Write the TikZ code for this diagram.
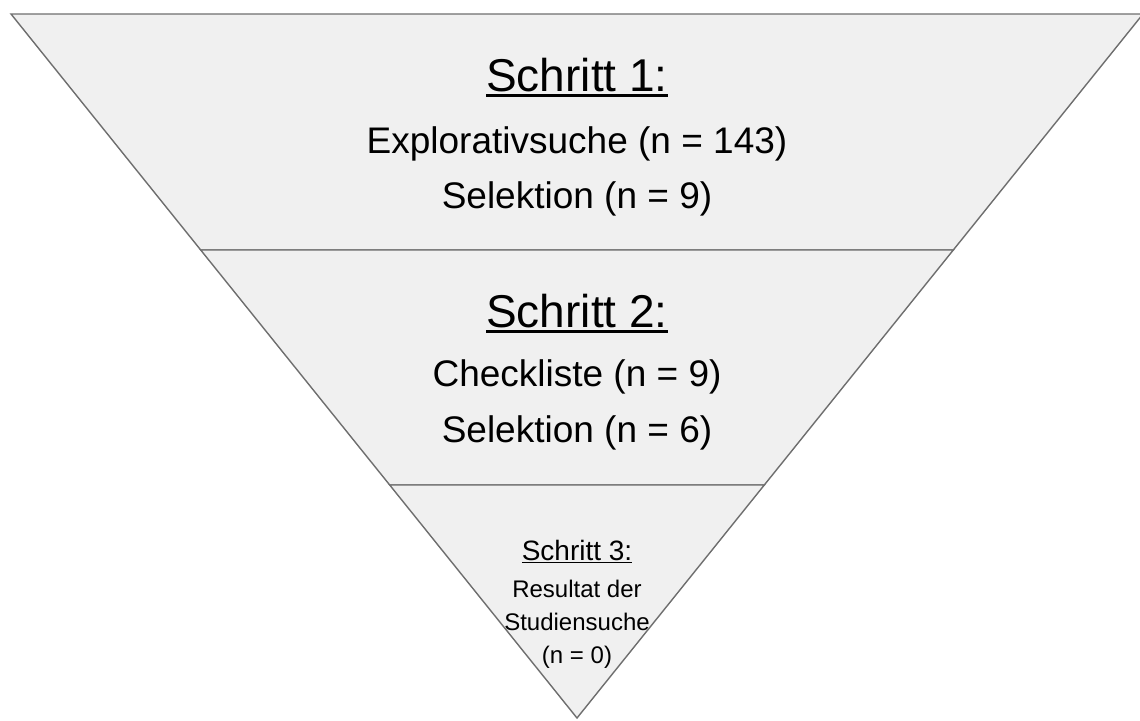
\documentclass[tikz,border=0pt]{standalone}
\usepackage{fontspec}
\setmainfont{Liberation Sans}
\definecolor{tierfill}{HTML}{F0F0F0}
\definecolor{tieredge}{HTML}{6E6E6E}
\newcommand\ulbox[1]{\setbox0\hbox{#1}\rlap{\rule[-0.12em]{\wd0}{0.055em}}\box0}
\begin{document}
\begin{tikzpicture}[x=1pt,y=-1pt,
  tier/.style={fill=tierfill, draw=tieredge, line width=1.4pt, line join=miter},
  tiershadow/.style={fill=black, opacity=.22},
  head/.style={anchor=base, inner sep=0pt, font=\fontsize{46}{50}\selectfont},
  body/.style={anchor=base, inner sep=0pt, font=\fontsize{37}{40}\selectfont},
  headsmall/.style={anchor=base, inner sep=0pt, font=\fontsize{28}{32}\selectfont},
  bodysmall/.style={anchor=base, inner sep=0pt, font=\fontsize{24}{28}\selectfont}]
\useasboundingbox (0,0) rectangle (1140,720);
\clip (0,0) rectangle (1140,720);
% corner coordinates
\coordinate (tl) at (11,14);
\coordinate (tr) at (1143,14);
\coordinate (ml) at (200.7,250);
\coordinate (mr) at (953.3,250);
\coordinate (bl) at (389.7,485);
\coordinate (br) at (764.3,485);
\coordinate (ap) at (577,718);
% shadows
\begin{scope}[yshift=-2pt, xshift=0.5pt]
\fill[tiershadow] (tl) -- (tr) -- (mr) -- (ml) -- cycle;
\fill[tiershadow] (ml) -- (mr) -- (br) -- (bl) -- cycle;
\fill[tiershadow] (bl) -- (br) -- (ap) -- cycle;
\end{scope}
% tiers
\path[tier] (tl) -- (tr) -- (mr) -- (ml) -- cycle;
\path[tier] (ml) -- (mr) -- (br) -- (bl) -- cycle;
\path[tier] (bl) -- (br) -- (ap) -- cycle;
% texts
\node[head] (s1) at (577,91) {\ulbox{Schritt 1:}};
\node[body] (s1a) at (577,153) {Explorativsuche (n = 143)};
\node[body] (s1b) at (577,208) {Selektion (n = 9)};
\node[head] (s2) at (577,327) {\ulbox{Schritt 2:}};
\node[body] (s2a) at (577,386) {Checkliste (n = 9)};
\node[body] (s2b) at (577,442) {Selektion (n = 6)};
\node[headsmall] (s3) at (577,560) {\ulbox{Schritt 3:}};
\node[bodysmall] (s3a) at (577,597) {Resultat der};
\node[bodysmall] (s3b) at (577,630) {Studiensuche};
\node[bodysmall] (s3c) at (577,663) {(n = 0)};
\end{tikzpicture}
\end{document}
